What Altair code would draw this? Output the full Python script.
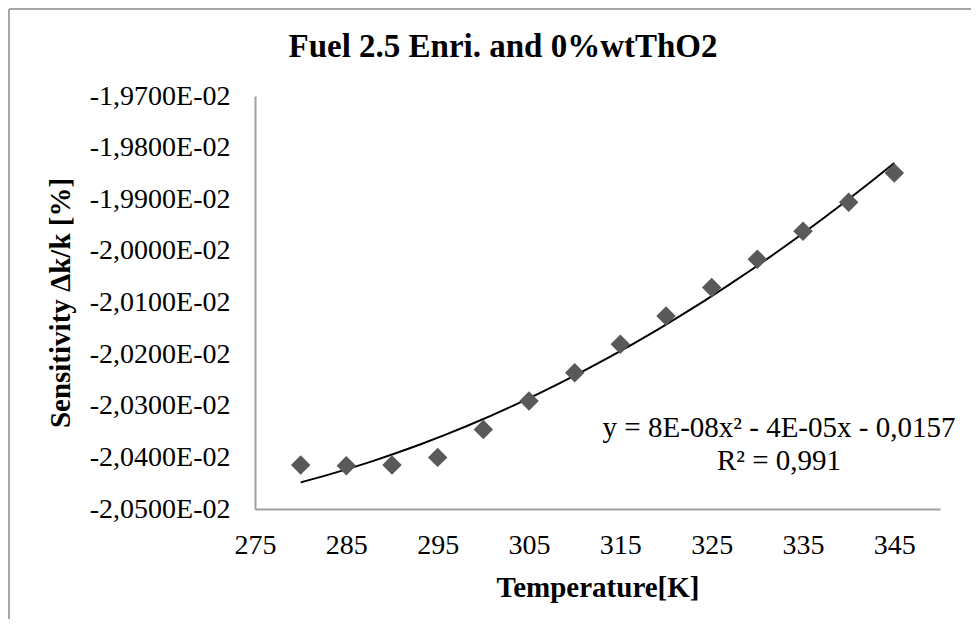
import altair as alt
import pandas as pd

# ---- data ----
temperature = [280, 285, 290, 295, 300, 305, 310, 315, 320, 325, 330, 335, 340, 345]
sensitivity = [-0.020415, -0.020416, -0.020415, -0.020400, -0.020346, -0.020291,
               -0.020236, -0.020181, -0.020126, -0.020071, -0.020016, -0.019962,
               -0.019906, -0.019849]
x_ticks = [275, 285, 295, 305, 315, 325, 335, 345]
y_ticks = [-0.0205, -0.0204, -0.0203, -0.0202, -0.0201, -0.0200, -0.0199, -0.0198, -0.0197]
title_text = ["Fuel 2.5 Enri. and 0%wtThO2"]
x_title = "Temperature[K]"
y_title = "Sensitivity \u0394k/k [%]"
equation_text = ["y = 8E-08x\u00b2 - 4E-05x - 0,0157"]
r2_text = ["R\u00b2 = 0,991"]

FONT = "Liberation Serif"
W, H = 685, 413

df = pd.DataFrame({"T": temperature, "S": sensitivity})

x_scale = alt.Scale(domain=[275, 350], nice=False, zero=False)
y_scale = alt.Scale(domain=[-0.0205, -0.0197], nice=False, zero=False)

x_axis = alt.Axis(values=x_ticks, format="d", title=x_title, labelPadding=22,
                  labelFlush=False, labelOverlap=False,
                  titleX=W / 2, titleY=78, titleBaseline="middle", titleAlign="center")
y_axis = alt.Axis(values=y_ticks, title=y_title, labelPadding=25,
                  labelFlush=False, labelOverlap=False,
                  labelExpr="'-' + replace(format(-datum.value*100, '.4f'), '.', ',') + 'E-02'",
                  titleX=-195, titleY=H / 2, titleAngle=270, titleBaseline="middle",
                  titleAlign="center")

points = alt.Chart(df).mark_point(shape="diamond", filled=True, size=380,
                                  color="#595959", opacity=1).encode(
    x=alt.X("T:Q", scale=x_scale, axis=x_axis),
    y=alt.Y("S:Q", scale=y_scale, axis=y_axis),
)

trend = alt.Chart(df).transform_regression(
    "T", "S", method="poly", order=2, extent=[280, 345]
).mark_line(color="black", strokeWidth=2).encode(
    x=alt.X("T:Q", scale=x_scale),
    y=alt.Y("S:Q", scale=y_scale),
)

one = pd.DataFrame({"k": [0]})
border_top = alt.Chart(one).mark_rule(color="#a6a6a6", strokeWidth=2).encode(
    x=alt.value(-246), x2=alt.value(740), y=alt.value(-87))
border_left = alt.Chart(one).mark_rule(color="#a6a6a6", strokeWidth=2).encode(
    x=alt.value(-246), y=alt.value(-87), y2=alt.value(560))

title = alt.Chart(pd.DataFrame({"t": title_text})).mark_text(
    font=FONT, fontSize=33, fontWeight="bold", align="center", baseline="alphabetic",
    color="black").encode(text="t:N", x=alt.value(248), y=alt.value(-39))

eq = alt.Chart(pd.DataFrame({"t": equation_text})).mark_text(
    font=FONT, fontSize=29, align="center", baseline="alphabetic", color="black"
).encode(text="t:N", x=alt.value(524), y=alt.value(341))

r2 = alt.Chart(pd.DataFrame({"t": r2_text})).mark_text(
    font=FONT, fontSize=29, align="center", baseline="alphabetic", color="black"
).encode(text="t:N", x=alt.value(524), y=alt.value(374))

chart = alt.layer(border_top, border_left, trend, points, title, eq, r2).properties(
    width=W, height=H,
    padding={"left": 247, "top": 88, "right": 31, "bottom": 110},
    autosize=alt.AutoSizeParams(type="none"),
).configure_view(stroke=None).configure_axis(
    grid=False, ticks=False, domainColor="#a0a0a0", domainWidth=2,
    labelFont=FONT, labelFontSize=28, labelColor="black",
    titleFont=FONT, titleFontSize=29, titleFontWeight="bold", titleColor="black",
)

chart.save("out.html", embed_options={"renderer": "svg", "actions": False})
